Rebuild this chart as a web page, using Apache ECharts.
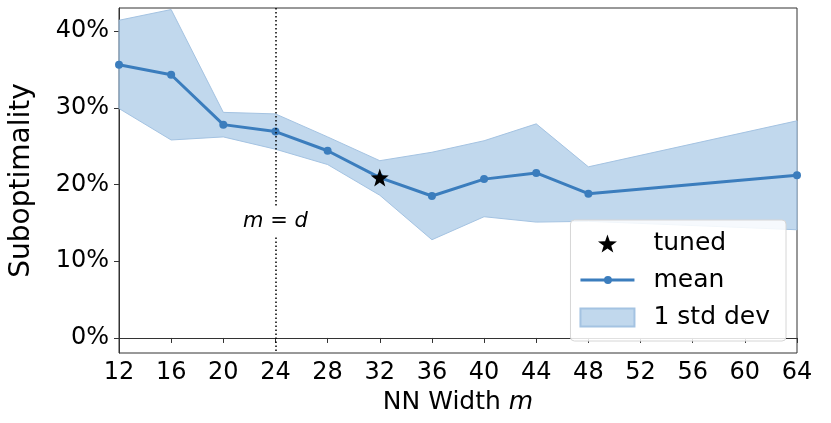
<!DOCTYPE html>
<html>
<head>
<meta charset="utf-8">
<script src="https://cdn.jsdelivr.net/npm/echarts@6/dist/echarts.min.js"></script>
<style>
  html, body { margin: 0; padding: 0; background: #fff; }
  #chart { width: 831px; height: 423px; }
</style>
</head>
<body>
<div id="chart"></div>
<script>
// NN width m and suboptimality (%)
const widths = [12, 16, 20, 24, 28, 32, 36, 40, 44, 48, 64];
const meanVals = [35.6, 34.3, 27.8, 26.9, 24.4, 20.9, 18.5, 20.7, 21.5, 18.8, 21.2];
const upperVals = [41.4, 42.8, 29.4, 29.2, 26.2, 23.1, 24.2, 25.7, 27.9, 22.3, 28.3];
const lowerVals = [29.9, 25.8, 26.2, 24.6, 22.6, 18.6, 12.8, 15.8, 15.1, 15.2, 14.1];
const tuned = [[32, 20.9]];
const yTicks = [0, 10, 20, 30, 40];
const refWidth = 24;

const FONT = 'DejaVu Sans';
const BLUE = '#3b7dbd';
const STAR = 'path://M0,-10 L2.35,-3.24 L9.51,-3.09 L3.8,1.24 L5.88,8.09 L0,4 L-5.88,8.09 L-3.8,1.24 L-9.51,-3.09 L-2.35,-3.24 Z';
// legend icon for the mean: thick line with a small dot, drawn in a 54x18 box
const LINE_DOT = 'path://M0,16 L54,16 L54,19 L0,19 Z M23.5,17.5 A4,4 0 1 1 31.5,17.5 A4,4 0 1 1 23.5,17.5 Z M0,9 L0.01,9 Z M0,27 L0.01,27 Z';

const chart = echarts.init(document.getElementById('chart'), null, { renderer: 'canvas' });

const option = {
  animation: false,
  backgroundColor: '#fff',
  grid: {
    left: 117, right: 34, top: 8, bottom: 70,
    show: true, borderColor: '#333', borderWidth: 1, backgroundColor: 'transparent'
  },
  xAxis: {
    type: 'value',
    min: 12, max: 64, interval: 4,
    name: 'NN Width {i|m}',
    nameLocation: 'middle',
    nameGap: 33,
    nameTextStyle: {
      fontFamily: FONT, fontSize: 25, color: '#000',
      rich: { i: { fontFamily: FONT, fontSize: 25, fontStyle: 'italic', color: '#000' } }
    },
    axisLine: { lineStyle: { color: '#333', width: 1 } },
    axisTick: { show: true, length: 5, lineStyle: { color: '#333' } },
    axisLabel: { fontFamily: FONT, fontSize: 24, color: '#000', margin: 8 },
    splitLine: { show: false }
  },
  yAxis: {
    type: 'value',
    min: -1.96, max: 43,
    name: 'Suboptimality',
    nameLocation: 'middle',
    nameGap: 83,
    nameTextStyle: { fontFamily: FONT, fontSize: 28, color: '#000' },
    axisLine: { show: true, lineStyle: { color: '#333', width: 1 } },
    axisTick: { show: true, length: 5, customValues: yTicks, lineStyle: { color: '#333' } },
    axisLabel: {
      fontFamily: FONT, fontSize: 24, color: '#000', margin: 10,
      customValues: yTicks,
      formatter: v => v + '%'
    },
    splitLine: { show: false }
  },
  legend: {
    orient: 'vertical',
    right: 45, top: 220,
    itemWidth: 54, itemHeight: 18, itemGap: 12,
    padding: [11, 16, 11, 9],
    backgroundColor: 'rgba(255,255,255,0.85)',
    borderColor: '#d6d6d6', borderWidth: 1, borderRadius: 4,
    textStyle: { fontFamily: FONT, fontSize: 25, color: '#000', padding: [0, 0, 0, 14] },
    data: [
      { name: 'tuned', itemStyle: { opacity: 1 } },
      { name: 'mean', icon: LINE_DOT },
      { name: '1 std dev', icon: 'rect' }
    ]
  },
  series: [
    {
      name: '1 std dev',
      type: 'custom',
      z: 1,
      itemStyle: { color: 'rgba(160,195,227,0.65)', borderColor: '#a4c3e2', borderWidth: 1 },
      data: widths.map((w, i) => [w, lowerVals[i], upperVals[i]]),
      renderItem: function (params, api) {
        if (params.dataIndex !== 0) return null;
        const top = widths.map((w, i) => api.coord([w, upperVals[i]]));
        const bot = widths.map((w, i) => api.coord([w, lowerVals[i]])).reverse();
        return {
          type: 'polygon',
          shape: { points: top.concat(bot) },
          style: { fill: 'rgba(160,195,227,0.65)', stroke: '#a4c3e2', lineWidth: 1 }
        };
      }
    },
    {
      name: 'mean',
      type: 'line',
      z: 3,
      data: widths.map((w, i) => [w, meanVals[i]]),
      symbol: 'circle',
      symbolSize: 8,
      itemStyle: { color: BLUE },
      lineStyle: { color: BLUE, width: 3 },
      markLine: {
        silent: true,
        symbol: ['none', 'none'],
        label: { show: false },
        lineStyle: { color: '#000', width: 1.5, type: [1.5, 2.5] },
        data: [
          [{ coord: [refWidth, 43] }, { coord: [refWidth, 17.0] }],
          [{ coord: [refWidth, 13.1] }, { coord: [refWidth, -1.96] }]
        ]
      },
      markPoint: {
        silent: true,
        symbol: 'circle',
        symbolSize: 1,
        itemStyle: { color: 'rgba(0,0,0,0)' },
        label: {
          show: true,
          position: 'inside',
          formatter: '{i|m} = {i|d}',
          fontFamily: FONT, fontSize: 21, color: '#000',
          rich: { i: { fontFamily: FONT, fontSize: 21, fontStyle: 'italic', color: '#000' } }
        },
        data: [{ coord: [refWidth, 15.2] }]
      }
    },
    {
      name: 'tuned',
      type: 'scatter',
      z: 4,
      data: tuned,
      symbol: STAR,
      symbolSize: 18,
      itemStyle: { color: '#000', opacity: 1 }
    }
  ]
};

chart.setOption(option);
</script>
</body>
</html>
